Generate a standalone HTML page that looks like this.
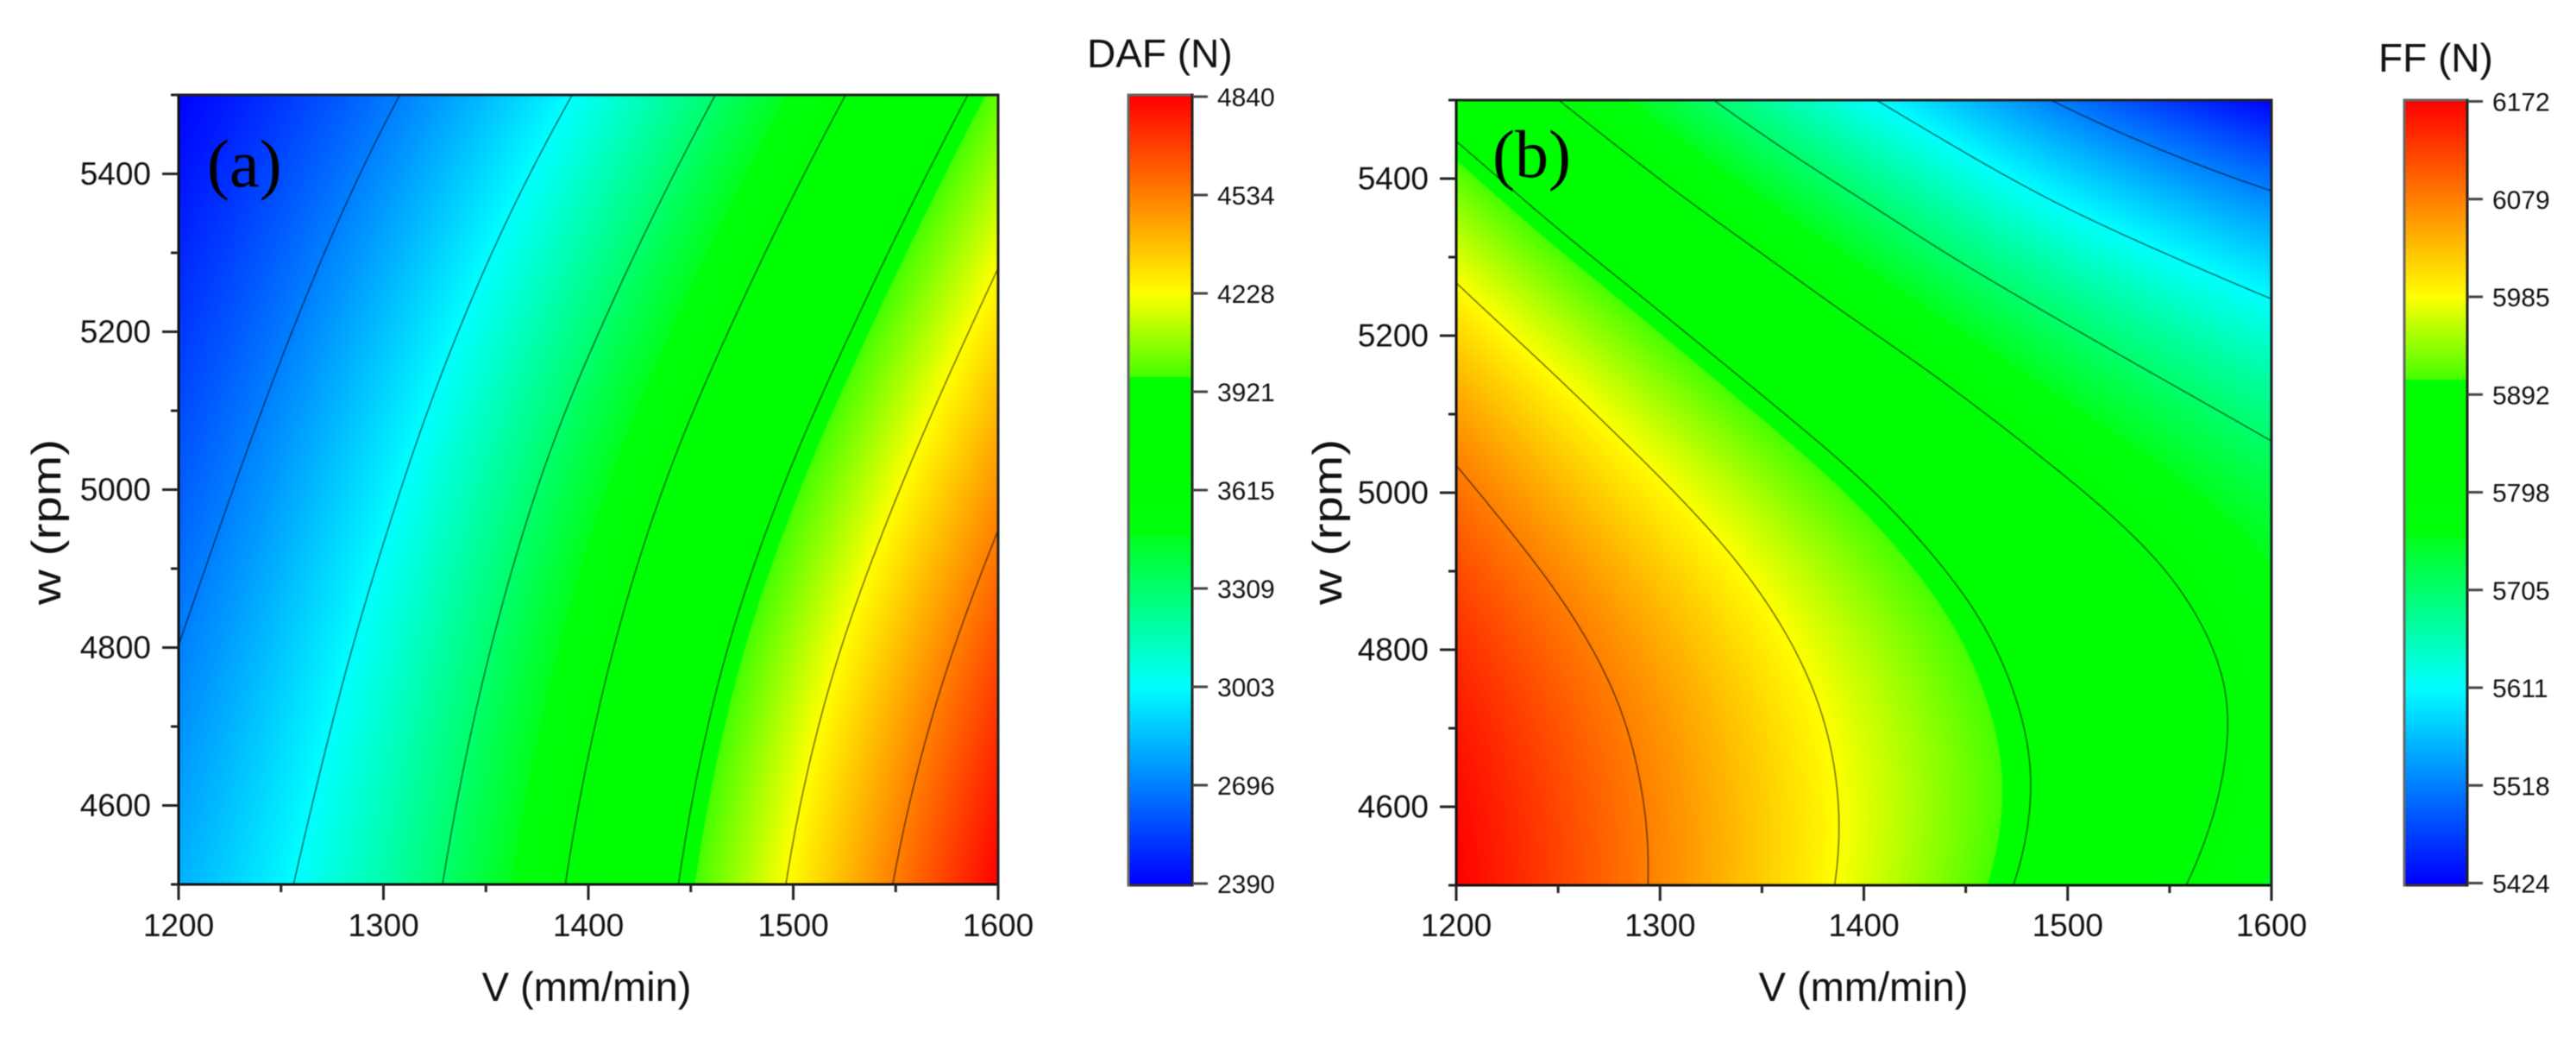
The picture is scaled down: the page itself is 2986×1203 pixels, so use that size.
<!DOCTYPE html>
<html>
<head>
<meta charset="utf-8">
<title>DAF and FF contour maps</title>
<style>
html,body{margin:0;padding:0;background:#fff;}
#figure{position:relative;width:2986px;height:1203px;overflow:hidden;background:#fff;filter:blur(0.5px);}
canvas{position:absolute;display:block;}
svg{position:absolute;left:0;top:0;}
text{font-family:"Liberation Sans",sans-serif;fill:#111;}
.panel-letter{font-family:"Liberation Serif",serif;font-size:78px;fill:#000;}
.axis-title{font-size:47px;}
.tick-label{font-size:37px;}
.bar-label{font-size:30px;}
</style>
</head>
<body>
<div id="figure">
  <canvas id="heat-a"></canvas>
  <canvas id="bar-a"></canvas>
  <canvas id="heat-b"></canvas>
  <canvas id="bar-b"></canvas>
  <svg id="overlay" width="2986" height="1203" viewBox="0 0 2986 1203">
    <text class="axis-title" x="680" y="1160" text-anchor="middle">V (mm/min)</text>
    <text class="axis-title" x="2160" y="1160" text-anchor="middle">V (mm/min)</text>
    <text class="axis-title" transform="translate(70,605) rotate(-90)" text-anchor="middle" textLength="192" lengthAdjust="spacingAndGlyphs">w (rpm)</text>
    <text class="axis-title" transform="translate(1555,605) rotate(-90)" text-anchor="middle" textLength="192" lengthAdjust="spacingAndGlyphs">w (rpm)</text>
    <text class="axis-title" style="font-size:46px" x="1260" y="78">DAF (N)</text>
    <text class="axis-title" style="font-size:46px" x="2757" y="83">FF (N)</text>
    <g id="layer-a"></g>
    <g id="layer-b"></g>
    <text class="panel-letter" x="240" y="216">(a)</text>
    <text class="panel-letter" x="1730" y="205">(b)</text>
  </svg>
</div>
<script>
const speedGrid = [1200, 1300, 1400, 1500, 1600];
const dafRpmGrid = [4500, 4750, 5000, 5250, 5500];
const dafValues = [
  [2818, 3178, 3675, 4249, 4840],
  [2718, 3088, 3575, 4130, 4690],
  [2612, 2968, 3432, 3950, 4490],
  [2501, 2827, 3245, 3730, 4258],
  [2390, 2670, 3035, 3490, 4000]
];
const ffRpmGrid = [4500, 4625, 4750, 4875, 5000, 5125, 5250, 5375, 5500];
const ffValues = [
  [6172, 6073, 5970, 5863, 5750],
  [6165, 6070, 5972, 5874, 5772],
  [6149, 6057, 5961, 5867, 5778],
  [6124, 6031, 5936, 5845, 5762],
  [6090, 5992, 5897, 5805, 5730],
  [6047, 5942, 5843, 5751, 5678],
  [5993, 5882, 5777, 5684, 5609],
  [5932, 5812, 5703, 5602, 5525],
  [5861, 5737, 5618, 5510, 5424]
];
const xTickLabels = [1200, 1300, 1400, 1500, 1600];
const xMinorTicks = [1250, 1350, 1450, 1550];
const yTickLabels = [4600, 4800, 5000, 5200, 5400];
const yMinorTicks = [4500, 4700, 4900, 5100, 5300, 5500];
const dafBarLabels = [2390, 2696, 3003, 3309, 3615, 3921, 4228, 4534, 4840];
const ffBarLabels = [5424, 5518, 5611, 5705, 5798, 5892, 5985, 6079, 6172];

const SVGNS = 'http://www.w3.org/2000/svg';

function rampColor(t) {
  t = Math.max(0, Math.min(1, t));
  if (t < 0.25) { const k = t / 0.25; return [0, 255 * k, 255]; }
  if (t < 0.443) { const k = (t - 0.25) / 0.193; return [0, 255, 255 - 228 * k]; }
  if (t < 0.644) { const k = (t - 0.443) / 0.201; return [0, 255, 12 * (1 - k) * (1 - k)]; }
  if (t < 0.75) { const k = (t - 0.644) / 0.106; return [70 + 185 * k, 255, 0]; }
  const k = (t - 0.75) / 0.25;
  return [255, 255 * (1 - k), 0];
}

function cubic(a, b, c, d, s) {
  return b + 0.5 * s * (c - a + s * (2 * a - 5 * b + 4 * c - d + s * (3 * (b - c) + d - a)));
}

function pick(list, i) {
  const n = list.length;
  if (i < 0) return 3 * list[0] - 3 * list[1] + list[2];
  if (i >= n) return 3 * list[n - 1] - 3 * list[n - 2] + list[n - 3];
  return list[i];
}

function interpolateList(list, pos) {
  let i = Math.floor(pos);
  if (i > list.length - 2) i = list.length - 2;
  if (i < 0) i = 0;
  return cubic(pick(list, i - 1), list[i], list[i + 1], pick(list, i + 2), pos - i);
}

function makeField(rpmGrid, values) {
  const rowStep = rpmGrid[1] - rpmGrid[0];
  const colStep = speedGrid[1] - speedGrid[0];
  const columns = speedGrid.map(function (_, c) { return values.map(function (row) { return row[c]; }); });
  return function (v, w) {
    const rowPos = (w - rpmGrid[0]) / rowStep;
    const colPos = (v - speedGrid[0]) / colStep;
    const across = columns.map(function (col) { return interpolateList(col, rowPos); });
    return interpolateList(across, colPos);
  };
}

function renderPanel(cfg) {
  const layer = document.getElementById(cfg.layer);
  const vMin = xTickLabels[0], vMax = xTickLabels[xTickLabels.length - 1];
  const wMin = yMinorTicks[0], wMax = yMinorTicks[yMinorTicks.length - 1];
  const xScale = function (v) { return cfg.left + (v - vMin) / (vMax - vMin) * (cfg.right - cfg.left); };
  const yScale = function (w) { return cfg.bottom - (w - wMin) / (wMax - wMin) * (cfg.bottom - cfg.top); };
  const xInvert = function (x) { return vMin + (x - cfg.left) / (cfg.right - cfg.left) * (vMax - vMin); };
  const yInvert = function (y) { return wMin + (cfg.bottom - y) / (cfg.bottom - cfg.top) * (wMax - wMin); };
  const field = makeField(cfg.rpmGrid, cfg.values);
  const zMin = cfg.barLabels[0], zMax = cfg.barLabels[cfg.barLabels.length - 1];

  // heatmap
  const canvas = document.getElementById(cfg.heatId);
  const W = cfg.right - cfg.left, H = cfg.bottom - cfg.top;
  canvas.width = W; canvas.height = H;
  canvas.style.left = cfg.left + 'px';
  canvas.style.top = cfg.top + 'px';
  const ctx = canvas.getContext('2d');
  const img = ctx.createImageData(W, H);
  for (let y = 0; y < H; y++) {
    const w = yInvert(cfg.top + y + 0.5);
    for (let x = 0; x < W; x++) {
      const z = field(xInvert(cfg.left + x + 0.5), w);
      const c = rampColor((z - zMin) / (zMax - zMin));
      const o = (y * W + x) * 4;
      img.data[o] = c[0]; img.data[o + 1] = c[1]; img.data[o + 2] = c[2]; img.data[o + 3] = 255;
    }
  }
  ctx.putImageData(img, 0, 0);

  // contours by marching squares
  const step = 4;
  const nx = Math.ceil(W / step), ny = Math.ceil(H / step);
  const samples = [];
  for (let j = 0; j <= ny; j++) {
    const row = [];
    const py = Math.min(cfg.top + j * step, cfg.bottom);
    for (let i = 0; i <= nx; i++) {
      const px = Math.min(cfg.left + i * step, cfg.right);
      row.push(field(xInvert(px), yInvert(py)));
    }
    samples.push(row);
  }
  const levels = cfg.barLabels.slice(1, -1);
  levels.forEach(function (level) {
    let d = '';
    for (let j = 0; j < ny; j++) {
      for (let i = 0; i < nx; i++) {
        const x0 = cfg.left + i * step, x1 = Math.min(x0 + step, cfg.right);
        const y0 = cfg.top + j * step, y1 = Math.min(y0 + step, cfg.bottom);
        const a = samples[j][i], b = samples[j][i + 1], c = samples[j + 1][i + 1], e = samples[j + 1][i];
        const pts = [];
        if ((a - level) * (b - level) < 0) pts.push([x0 + (level - a) / (b - a) * (x1 - x0), y0]);
        if ((b - level) * (c - level) < 0) pts.push([x1, y0 + (level - b) / (c - b) * (y1 - y0)]);
        if ((e - level) * (c - level) < 0) pts.push([x0 + (level - e) / (c - e) * (x1 - x0), y1]);
        if ((a - level) * (e - level) < 0) pts.push([x0, y0 + (level - a) / (e - a) * (y1 - y0)]);
        for (let k = 0; k + 1 < pts.length; k += 2) {
          d += 'M' + pts[k][0].toFixed(1) + ' ' + pts[k][1].toFixed(1) + 'L' + pts[k + 1][0].toFixed(1) + ' ' + pts[k + 1][1].toFixed(1);
        }
      }
    }
    const path = document.createElementNS(SVGNS, 'path');
    path.setAttribute('d', d);
    path.setAttribute('fill', 'none');
    path.setAttribute('stroke', '#000');
    path.setAttribute('stroke-opacity', '0.5');
    path.setAttribute('stroke-width', '1.7');
    path.setAttribute('stroke-linecap', 'round');
    
    
    layer.appendChild(path);
  });

  function line(x1, y1, x2, y2, color, width, name) {
    const el = document.createElementNS(SVGNS, 'line');
    el.setAttribute('x1', x1);
    el.setAttribute('y1', y1);
    el.setAttribute('x2', x2);
    el.setAttribute('y2', y2);
    el.setAttribute('stroke', color);
    el.setAttribute('stroke-width', width);
    
    
    layer.appendChild(el);
  }
  function label(x, y, str, cls, anchor, name) {
    const el = document.createElementNS(SVGNS, 'text');
    el.setAttribute('x', x);
    el.setAttribute('y', y);
    el.setAttribute('class', cls);
    el.setAttribute('text-anchor', anchor);
    
    
    el.textContent = str;
    layer.appendChild(el);
  }

  // frame
  line(cfg.left, cfg.top, cfg.right, cfg.top, '#222', 3, 'plot-frame-top');
  line(cfg.left, cfg.bottom, cfg.right, cfg.bottom, '#111', 3, 'plot-frame-bottom');
  line(cfg.left, cfg.top - 1.5, cfg.left, cfg.bottom + 1.5, '#111', 3, 'plot-frame-left');
  line(cfg.right, cfg.top - 1.5, cfg.right, cfg.bottom + 1.5, '#222', 3, 'plot-frame-right');

  // x ticks
  xTickLabels.forEach(function (v) {
    line(xScale(v), cfg.bottom, xScale(v), cfg.bottom + 18, '#222', 3, 'x-major-tick');
    label(xScale(v), 1085, String(v), 'tick-label', 'middle', 'x-tick-label');
  });
  xMinorTicks.forEach(function (v) {
    line(xScale(v), cfg.bottom, xScale(v), cfg.bottom + 9, '#222', 3, 'x-minor-tick');
  });
  // y ticks
  yTickLabels.forEach(function (w) {
    line(cfg.left - 19, yScale(w), cfg.left, yScale(w), '#222', 3, 'y-major-tick');
    label(cfg.left - 32, yScale(w) + 12.5, String(w), 'tick-label', 'end', 'y-tick-label');
  });
  yMinorTicks.forEach(function (w) {
    line(cfg.left - 9, yScale(w), cfg.left, yScale(w), '#222', 3, 'y-minor-tick');
  });

  // colorbar
  const bar = document.getElementById(cfg.barId);
  const bw = cfg.barRight - cfg.barLeft, bh = cfg.barBottom - cfg.barTop;
  bar.width = bw; bar.height = bh;
  bar.style.left = cfg.barLeft + 'px';
  bar.style.top = cfg.barTop + 'px';
  const bctx = bar.getContext('2d');
  for (let y = 0; y < bh; y++) {
    const t = (cfg.barTickBottom - (cfg.barTop + y + 0.5)) / (cfg.barTickBottom - cfg.barTickTop);
    const col = rampColor(t);
    bctx.fillStyle = 'rgb(' + Math.round(col[0]) + ',' + Math.round(col[1]) + ',' + Math.round(col[2]) + ')';
    bctx.fillRect(0, y, bw, 1);
  }
  line(cfg.barLeft, cfg.barTop, cfg.barRight, cfg.barTop, '#666', 3, 'colorbar-frame-top');
  line(cfg.barLeft, cfg.barBottom, cfg.barRight, cfg.barBottom, '#333', 3, 'colorbar-frame-bottom');
  line(cfg.barLeft, cfg.barTop - 1.5, cfg.barLeft, cfg.barBottom + 1.5, '#666', 3, 'colorbar-frame-left');
  line(cfg.barRight, cfg.barTop - 1.5, cfg.barRight, cfg.barBottom + 1.5, '#222', 3, 'colorbar-frame-right');
  cfg.barLabels.forEach(function (val, i) {
    const y = cfg.barTickBottom - i / (cfg.barLabels.length - 1) * (cfg.barTickBottom - cfg.barTickTop);
    line(cfg.barRight, y, cfg.barRight + 18, y, '#444', 3, 'colorbar-tick');
    label(cfg.barRight + 29, y + 11, String(val), 'bar-label', 'start', 'colorbar-tick-label');
  });
}

renderPanel({
  layer: 'layer-a', heatId: 'heat-a', barId: 'bar-a',
  left: 207, right: 1157, top: 110, bottom: 1025,
  rpmGrid: dafRpmGrid, values: dafValues, barLabels: dafBarLabels,
  barLeft: 1308, barRight: 1382, barTop: 110, barBottom: 1026, barTickTop: 112, barTickBottom: 1024
});
renderPanel({
  layer: 'layer-b', heatId: 'heat-b', barId: 'bar-b',
  left: 1688, right: 2633, top: 116, bottom: 1026,
  rpmGrid: ffRpmGrid, values: ffValues, barLabels: ffBarLabels,
  barLeft: 2787, barRight: 2860, barTop: 116, barBottom: 1026, barTickTop: 117.5, barTickBottom: 1023.5
});
</script>
</body>
</html>
